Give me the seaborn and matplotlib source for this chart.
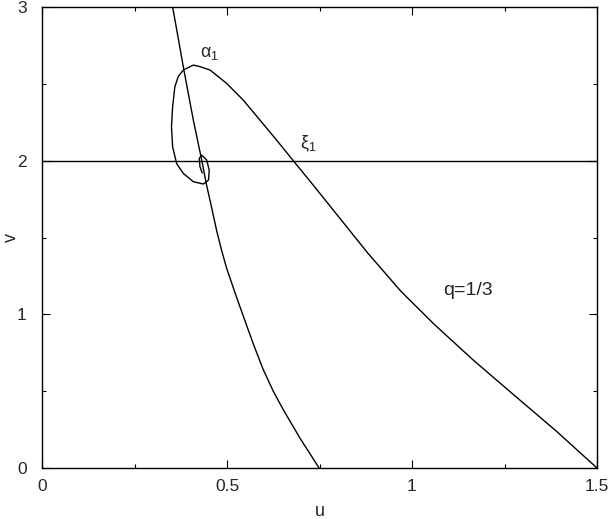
import matplotlib
matplotlib.use("Agg")
import matplotlib.pyplot as plt
import seaborn as sns
from matplotlib.ticker import MultipleLocator

# values
# curve alpha_1 (the one ending at u=1.5, spiralling in near u=0.43, v=1.95)
u_alpha = [1.5, 1.39, 1.278, 1.169, 1.06, 0.970, 0.880, 0.789, 0.730, 0.679,
           0.634, 0.589, 0.544, 0.499, 0.454, 0.427, 0.409, 0.382, 0.368, 0.359,
           0.353, 0.350, 0.353, 0.364, 0.382, 0.409, 0.436, 0.450, 0.452, 0.445,
           0.432, 0.425, 0.427, 0.433]
v_alpha = [0.0, 0.24, 0.47, 0.695, 0.935, 1.150, 1.40, 1.673, 1.850, 2.0,
           2.134, 2.264, 2.394, 2.503, 2.59, 2.612, 2.622, 2.59, 2.546, 2.48,
           2.35, 2.22, 2.09, 1.98, 1.917, 1.863, 1.848, 1.874, 1.939, 2.004,
           2.036, 2.015, 1.96, 1.92]

# the steep curve ending at u=0.75
u_steep = [0.353, 0.368, 0.382, 0.396, 0.409, 0.432, 0.444, 0.458, 0.472, 0.485,
           0.499, 0.526, 0.549, 0.573, 0.598, 0.625, 0.652, 0.697, 0.749]
v_steep = [3.0, 2.80, 2.61, 2.43, 2.264, 2.0, 1.85, 1.70, 1.545, 1.42,
           1.30, 1.11, 0.955, 0.795, 0.640, 0.50, 0.38, 0.195, 0.0]

v_xi = 2.0  # horizontal line xi_1

sns.set_style("ticks")
plt.rcParams['font.family'] = ['Liberation Sans', 'DejaVu Sans']
plt.rcParams['mathtext.fontset'] = 'custom'
plt.rcParams['mathtext.rm'] = 'Liberation Sans'
plt.rcParams['mathtext.it'] = 'Liberation Sans:italic'

fig = plt.figure(figsize=(6.10, 5.19), dpi=100)
ax = fig.add_axes([42/610, 51/519, 555/610, 461/519])

sns.lineplot(x=u_alpha, y=v_alpha, sort=False, estimator=None, color='black',
             linewidth=1.0, ax=ax)
sns.lineplot(x=u_steep, y=v_steep, sort=False, estimator=None, color='black',
             linewidth=1.0, ax=ax)
ax.axhline(v_xi, color='black', linewidth=1.0)

ax.set_xlim(0, 1.5)
ax.set_ylim(0, 3)
ax.xaxis.set_minor_locator(MultipleLocator(0.25))
ax.yaxis.set_minor_locator(MultipleLocator(0.5))
ax.set_xticks([0, 0.5, 1, 1.5])
ax.set_xticklabels(['0', '0.5', '1', '1.5'])
ax.set_yticks([0, 1, 2, 3])
ax.set_yticklabels(['0', '1', '2', '3'])
ax.tick_params(which='both', direction='in', top=True, right=True,
               color='black', labelsize=12.5)
ax.tick_params(which='major', length=6, width=0.8)
ax.tick_params(which='minor', length=3, width=0.8)
ax.tick_params(axis='x', pad=8)
ax.tick_params(axis='y', pad=11)
for s in ax.spines.values():
    s.set_color('black')
    s.set_linewidth(1.0)

ax.set_xlabel('u', fontsize=13)
ax.set_ylabel('v', fontsize=13)
ax.xaxis.set_label_coords(0.5, -0.075)
ax.yaxis.set_label_coords(-0.040, 0.5)

ax.text(0.427, 2.70, r'$\mathrm{\alpha}_1$', fontsize=13, ha='left', va='center')
ax.text(0.697, 2.11, r'$\mathrm{\xi}_1$', fontsize=13, ha='left', va='center')
ax.text(1.085, 1.158, 'q=1/3', fontsize=14, ha='left', va='center')

fig.savefig('out.png', dpi=100)
